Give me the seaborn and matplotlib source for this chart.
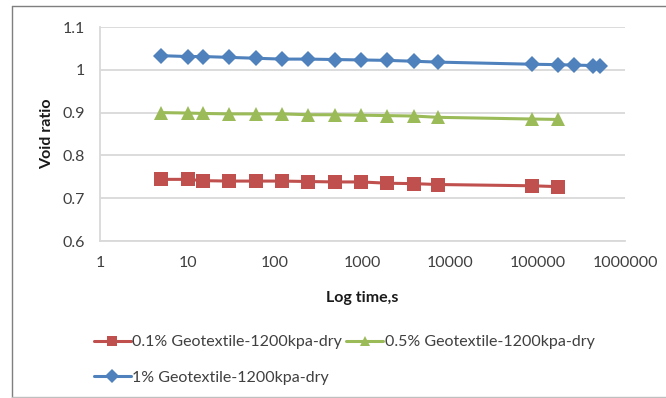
import matplotlib
matplotlib.use("Agg")
import matplotlib.pyplot as plt
import matplotlib.ticker as mticker
import seaborn as sns
import pandas as pd

# ---- data ----
time_main = [5, 10, 15, 30, 60, 120, 240, 480, 960, 1920, 3840, 7200, 86400, 172800]
time_1pct = [5, 10, 15, 30, 60, 120, 240, 480, 960, 1920, 3840, 7200, 86400, 172800,
             259200, 432000, 518400]
void_01 = [0.744, 0.744, 0.741, 0.740, 0.740, 0.740, 0.739, 0.738, 0.738, 0.735,
           0.734, 0.732, 0.729, 0.727]
void_05 = [0.900, 0.899, 0.898, 0.897, 0.897, 0.897, 0.895, 0.895, 0.894, 0.893,
           0.892, 0.889, 0.885, 0.884]
void_1 = [1.033, 1.031, 1.031, 1.029, 1.027, 1.025, 1.025, 1.024, 1.023, 1.022,
          1.020, 1.018, 1.013, 1.012, 1.011, 1.010, 1.010]
series_names = ["0.1% Geotextile-1200kpa-dry", "0.5% Geotextile-1200kpa-dry",
                "1% Geotextile-1200kpa-dry"]
x_ticks = [1, 10, 100, 1000, 10000, 100000, 1000000]
y_ticks = [0.6, 0.7, 0.8, 0.9, 1.0, 1.1]

df = pd.concat([
    pd.DataFrame({"t": time_main, "e": void_01, "s": series_names[0]}),
    pd.DataFrame({"t": time_main, "e": void_05, "s": series_names[1]}),
    pd.DataFrame({"t": time_1pct, "e": void_1, "s": series_names[2]}),
], ignore_index=True)

sns.set_theme(style="white")
plt.rcParams["font.family"] = ["Lato", "DejaVu Sans"]

colors = {series_names[0]: "#C0504D", series_names[1]: "#9BBB59", series_names[2]: "#4F81BD"}
markers = {series_names[0]: "s", series_names[1]: "^", series_names[2]: "D"}
msizes = {series_names[0]: 10, series_names[1]: 10.5, series_names[2]: 8.5}

fig = plt.figure(figsize=(6.66, 3.98), dpi=100)
ax = fig.add_axes([100 / 666, 1 - 241 / 398, 525 / 666, 214 / 398])

for name in series_names:
    sub = df[df["s"] == name]
    sns.lineplot(data=sub, x="t", y="e", ax=ax, color=colors[name], marker=markers[name],
                 markersize=msizes[name], markeredgewidth=0, linewidth=2.2,
                 label=name, estimator=None, sort=False)

ax.set_xscale("log")
ax.set_xlim(1, 1000000)
ax.set_ylim(0.6, 1.1)
ax.xaxis.set_major_locator(mticker.FixedLocator(x_ticks))
ax.xaxis.set_minor_locator(mticker.NullLocator())
ax.xaxis.set_major_formatter(mticker.FuncFormatter(lambda v, p: f"{int(round(v))}"))
ax.yaxis.set_major_locator(mticker.FixedLocator(y_ticks))
ax.yaxis.set_major_formatter(mticker.FuncFormatter(lambda v, p: f"{v:g}"))

ax.grid(axis="y", color="#d9d9d9", linewidth=1.3)
ax.grid(axis="x", visible=False)
for side in ["top", "right"]:
    ax.spines[side].set_visible(False)
for side in ["left", "bottom"]:
    ax.spines[side].set_color("#d9d9d9")
    ax.spines[side].set_linewidth(1.3)
ax.tick_params(axis="both", length=0, labelsize=11.5, colors="#404040", labelcolor="#404040")
ax.tick_params(axis="y", pad=11)
ax.tick_params(axis="x", pad=11)

ax.set_xlabel("Log time,s", fontsize=11.5, fontweight="bold", color="#1a1a1a", labelpad=15)
ax.set_ylabel("Void ratio", fontsize=11.5, fontweight="bold", color="#1a1a1a", labelpad=6)

handles, labels = ax.get_legend_handles_labels()
order = [0, 2, 1]
leg = fig.legend([handles[i] for i in order], [labels[i] for i in order],
                 loc="upper left", bbox_to_anchor=(94 / 666, 1 - 335 / 398), ncol=2,
                 frameon=False, fontsize=11.5, handlelength=2.3, handletextpad=0.1,
                 columnspacing=0.25, labelspacing=1.35, borderaxespad=0, borderpad=0,
                 labelcolor="#404040")
for h in leg.legend_handles:
    h.set_markersize(7)

# chart outer frame (left, top, bottom)
fig.add_artist(plt.Line2D([11.5 / 666, 11.5 / 666], [0, 1 - 6 / 398], color="#7f7f7f",
                          linewidth=1.0, transform=fig.transFigure))
fig.add_artist(plt.Line2D([11.5 / 666, 1], [1 - 6 / 398, 1 - 6 / 398], color="#7f7f7f",
                          linewidth=1.0, transform=fig.transFigure))
fig.add_artist(plt.Line2D([11.5 / 666, 1], [0.8 / 398, 0.8 / 398], color="#bfbfbf",
                          linewidth=1.0, transform=fig.transFigure))
if ax.get_legend():
    ax.get_legend().remove()

fig.savefig("out.png", dpi=100)
